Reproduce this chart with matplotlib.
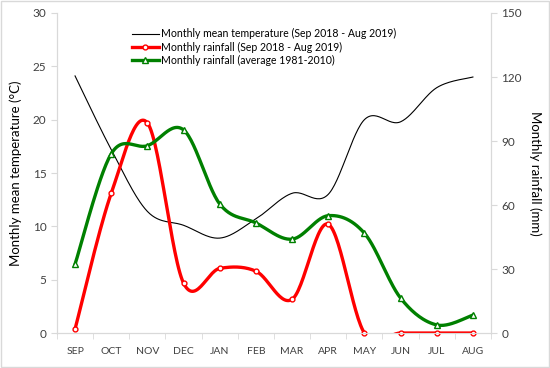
import matplotlib.pyplot as plt
import numpy as np

months = ['SEP', 'OCT', 'NOV', 'DEC', 'JAN', 'FEB', 'MAR', 'APR', 'MAY', 'JUN', 'JUL', 'AUG']
temp = [24.1, 17.2, 11.4, 10.1, 8.9, 10.7, 13.1, 13.0, 20.0, 19.8, 23.0, 24.0]
rain = [1.9, 65.5, 98.5, 23.4, 30.3, 29.0, 15.8, 51.0, 0.0, 0.0, 0.0, 0.0]
rain_avg = [32.3, 84.0, 87.8, 95.2, 60.5, 51.6, 44.0, 55.0, 46.8, 16.4, 3.8, 8.4]

plt.rcParams['font.family'] = ['Lato', 'DejaVu Sans']


def smooth(x, y, n=30):
    # catmull-rom like excel smoothed lines
    x = np.asarray(x, float)
    y = np.asarray(y, float)
    px = np.concatenate([[x[0]], x, [x[-1]]])
    py = np.concatenate([[y[0]], y, [y[-1]]])
    xs, ys = [], []
    t = np.linspace(0, 1, n)
    for i in range(1, len(px) - 2):
        p0, p1, p2, p3 = [np.array([px[j], py[j]]) for j in range(i - 1, i + 3)]
        c1 = p1 + (p2 - p0) / 6
        c2 = p2 - (p3 - p1) / 6
        b = ((1 - t) ** 3)[:, None] * p1 + (3 * (1 - t) ** 2 * t)[:, None] * c1 \
            + (3 * (1 - t) * t ** 2)[:, None] * c2 + (t ** 3)[:, None] * p2
        xs.append(b[:, 0])
        ys.append(b[:, 1])
    return np.concatenate(xs), np.concatenate(ys)


x = np.arange(len(months)) + 0.5
grey = '#d9d9d9'
tc = '#404040'

fig = plt.figure(figsize=(5.5, 3.68), dpi=100)
ax = fig.add_axes([0.1036, 0.095, 0.7891, 0.8697])
ax2 = ax.twinx()

sx, sy = smooth(x, temp)
ax.plot(sx, sy, color='black', lw=0.8)

rx, ry = smooth(x, rain)
ax2.plot(rx, ry, color='#ff0000', lw=2.4)
ax2.plot(x, rain, ls='none', marker='o', ms=3.5, mfc='white', mec='#ff0000', mew=1.0, clip_on=False)
gx, gy = smooth(x, rain_avg)
ax2.plot(gx, gy, color='#008000', lw=2.4)
ax2.plot(x, rain_avg, ls='none', marker='^', ms=4, mfc='white', mec='#008000', mew=1.0, clip_on=False)

ax.set_xlim(0, 12)
ax.set_ylim(0, 30)
ax2.set_ylim(0, 150)
ax.set_yticks([0, 5, 10, 15, 20, 25, 30])
ax2.set_yticks([0, 30, 60, 90, 120, 150])
ax.set_xticks(np.arange(13), minor=True)
ax.set_xticks(x)
ax.set_xticklabels(months)
ax.tick_params(axis='x', which='major', length=0, pad=10, labelsize=7.5, colors=tc)
ax.tick_params(axis='x', which='minor', length=4, color=grey)
ax.tick_params(axis='y', length=4, color=grey, labelsize=8.5, colors=tc, labelcolor=tc)
ax2.tick_params(axis='y', length=4, color=grey, labelsize=8.5, labelcolor=tc)

for a in (ax, ax2):
    a.spines['top'].set_visible(False)
    for s in ('left', 'right', 'bottom'):
        a.spines[s].set_color(grey)
ax.tick_params(axis='y', color=grey)

ax.set_ylabel('Monthly mean temperature (°C)', fontsize=9.5, color='black', labelpad=8)
ax2.set_ylabel('Monthly rainfall (mm)', fontsize=9.5, color='black', rotation=270, labelpad=14)

h1, = ax.plot([], [], color='black', lw=0.8, label='Monthly mean temperature (Sep 2018 - Aug 2019)')
h2, = ax.plot([], [], color='#ff0000', lw=2.4, marker='o', ms=3.5, mfc='white', mec='#ff0000',
              label='Monthly rainfall (Sep 2018 - Aug 2019)')
h3, = ax.plot([], [], color='#008000', lw=2.4, marker='^', ms=4, mfc='white', mec='#008000',
              label='Monthly rainfall (average 1981-2010)')
ax2.legend(handles=[h1, h2, h3], loc='upper left', bbox_to_anchor=(0.155, 0.975), frameon=False,
           fontsize=7.6, handlelength=2.6, handletextpad=0.2, labelspacing=0.2, borderpad=0.2)

fig.patches.append(plt.Rectangle((0.002, 0.003), 0.996, 0.994, transform=fig.transFigure,
                                 fill=False, edgecolor=grey, lw=1))
fig.savefig('out.png', dpi=100)
